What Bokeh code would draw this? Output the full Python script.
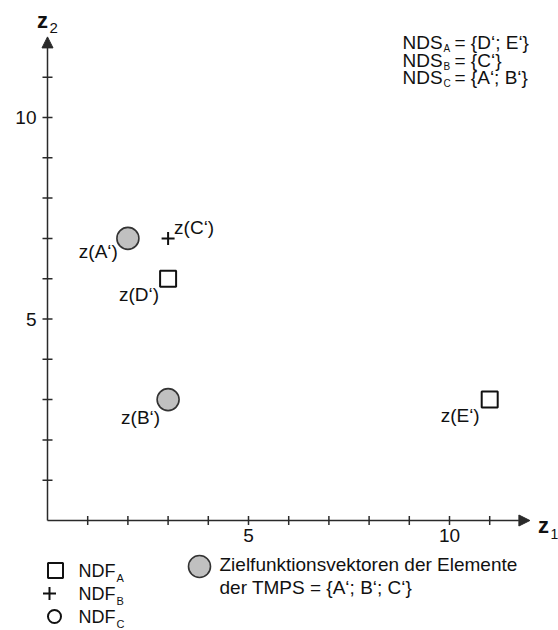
import numpy as np
from bokeh.plotting import figure
from bokeh.models import Arrow, NormalHead
from bokeh.core.properties import value
from bokeh.embed import file_html
from bokeh.resources import INLINE

# ---------------- data ----------------
points = ["A‘", "B‘", "C‘", "D‘", "E‘"]
z1_values = [2, 3, 3, 3, 11]
z2_values = [7, 3, 7, 6, 3]
point_group = ["TMPS", "TMPS", "NDF_B", "NDF_A", "NDF_A"]

nds_sets = ["A", "B", "C"]
nds_members = ["{D‘; E‘}", "{C‘}", "{A‘; B‘}"]
tmps_members = "{A‘; B‘; C‘}"

x_tick_values = list(range(1, 12))
y_tick_values = list(range(1, 12))
x_tick_labelled = [5, 10]
y_tick_labelled = [5, 10]
axis_max = 12

# ---------------- geometry ----------------
W, H = 558, 630
UX, UY = 40.2, 40.3            # pixels per unit
OX, OY = 47, 520               # origin in page pixels
x_start = -OX / UX
x_end = x_start + W / UX
y_end = OY / UY
y_start = y_end - H / UY


def cx(px):
    return (px - OX) / UX


def cy(py):
    return (OY - py) / UY


FONT = value("Liberation Sans")
INK = "#111111"
AX = "#2a2a2a"

p = figure(width=W, height=H, x_range=(x_start, x_end), y_range=(y_start, y_end),
           output_backend="svg", toolbar_location=None,
           x_axis_location=None, y_axis_location=None, min_border=0)
p.outline_line_color = None
p.xgrid.visible = False
p.ygrid.visible = False
p.background_fill_color = "white"
p.border_fill_color = "white"

# axes with arrow heads
p.add_layout(Arrow(end=NormalHead(size=11, fill_color=AX, line_color=AX, line_width=1),
                   x_start=0, y_start=0, x_end=axis_max, y_end=0,
                   line_color=AX, line_width=1.5))
p.add_layout(Arrow(end=NormalHead(size=11, fill_color=AX, line_color=AX, line_width=1),
                   x_start=0, y_start=0, x_end=0, y_end=axis_max,
                   line_color=AX, line_width=1.5))

# ticks
p.scatter(x=x_tick_values, y=[0] * len(x_tick_values), marker="dash", size=9,
          angle=np.pi / 2, line_color=AX, line_width=1.5)
p.scatter(x=[0] * len(y_tick_values), y=y_tick_values, marker="dash", size=10,
          line_color=AX, line_width=1.5)

# tick labels
p.text(x=x_tick_labelled, y=[0] * len(x_tick_labelled), text=[str(v) for v in x_tick_labelled],
       text_font=FONT, text_font_size="19px", text_color=INK,
       text_align="center", text_baseline="top", y_offset=8)
p.text(x=[0] * len(y_tick_labelled), y=y_tick_labelled, text=[str(v) for v in y_tick_labelled],
       text_font=FONT, text_font_size="19px", text_color=INK,
       text_align="right", text_baseline="middle", x_offset=-11)

# axis titles
p.text(x=[cx(42)], y=[cy(20)], text=["z"], text_font=FONT, text_font_size="22px",
       text_font_style="bold", text_color=INK, text_align="center", text_baseline="middle")
p.text(x=[cx(49)], y=[cy(27)], text=["2"], text_font=FONT, text_font_size="15px",
       text_color=INK, text_align="left", text_baseline="middle")
p.text(x=[cx(543)], y=[cy(525)], text=["z"], text_font=FONT, text_font_size="22px",
       text_font_style="bold", text_color=INK, text_align="center", text_baseline="middle")
p.text(x=[cx(550)], y=[cy(533)], text=["1"], text_font=FONT, text_font_size="14px",
       text_color=INK, text_align="left", text_baseline="middle")

# points
def sel(group):
    idx = [i for i, g in enumerate(point_group) if g == group]
    return [z1_values[i] for i in idx], [z2_values[i] for i in idx]

xs, ys = sel("TMPS")
p.scatter(xs, ys, marker="circle", size=22, fill_color="#c0c0c0", line_color="#333333", line_width=1.6)
xs, ys = sel("NDF_A")
p.scatter(xs, ys, marker="square", size=16, fill_color="white", line_color=INK, line_width=2)
xs, ys = sel("NDF_B")
p.scatter(xs, ys, marker="cross", size=13, line_color=INK, line_width=2)

# point labels  (align, x_offset, y_offset)
label_style = {"A‘": ("right", -10, 13), "B‘": ("right", -8, 18), "C‘": ("left", 6, -11),
               "D‘": ("right", -9, 16), "E‘": ("right", -10, 16)}
for name, x, y in zip(points, z1_values, z2_values):
    al, xo, yo = label_style[name]
    p.text(x=[x], y=[y], text=[f"z({name})"], text_font=FONT, text_font_size="19px",
           text_color=INK, text_align=al, text_baseline="middle", x_offset=xo, y_offset=yo)

# NDS block (top right)
for i, (s, m) in enumerate(zip(nds_sets, nds_members)):
    base = 42 + i * 17.5
    p.text(x=[cx(402)], y=[cy(base)], text=["NDS"], text_font=FONT, text_font_size="19px",
           text_color=INK, text_align="left", text_baseline="middle")
    p.text(x=[cx(443)], y=[cy(base + 6)], text=[s], text_font=FONT, text_font_size="10px",
           text_color=INK, text_align="left", text_baseline="middle")
    p.text(x=[cx(454)], y=[cy(base)], text=["= " + m], text_font=FONT, text_font_size="19px",
           text_color=INK, text_align="left", text_baseline="middle")

# legend (bottom)
p.scatter([cx(55)], [cy(570)], marker="square", size=15, fill_color="white", line_color=INK, line_width=2)
p.scatter([cx(49)], [cy(593)], marker="cross", size=13, line_color=INK, line_width=2)
p.scatter([cx(54)], [cy(616)], marker="circle", size=13, fill_color="white", line_color=INK, line_width=2)
for i, s in enumerate(["A", "B", "C"]):
    row = 570 + i * 23
    p.text(x=[cx(78)], y=[cy(row)], text=["NDF"], text_font=FONT, text_font_size="18px",
           text_color=INK, text_align="left", text_baseline="middle")
    p.text(x=[cx(116)], y=[cy(row + 7)], text=[s], text_font=FONT, text_font_size="11px",
           text_color=INK, text_align="left", text_baseline="middle")

p.scatter([cx(199)], [cy(566)], marker="circle", size=22, fill_color="#c0c0c0", line_color="#333333", line_width=1.6)
p.text(x=[cx(219)], y=[cy(564)], text=["Zielfunktionsvektoren der Elemente"], text_font=FONT,
       text_font_size="19px", text_color=INK, text_align="left", text_baseline="middle")
p.text(x=[cx(219)], y=[cy(587)], text=["der TMPS = " + tmps_members], text_font=FONT,
       text_font_size="19px", text_color=INK, text_align="left", text_baseline="middle")

open("out.html", "w").write(file_html(p, INLINE))
